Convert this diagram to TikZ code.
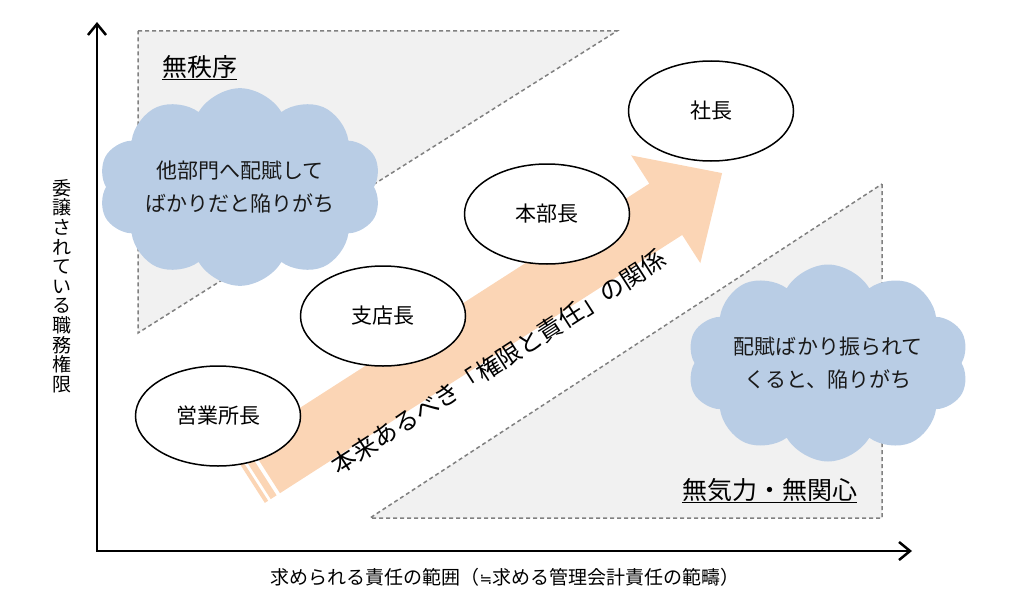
\documentclass[tikz,border=0pt]{standalone}
\usepackage{fontspec}
\newfontfamily\jp{Noto Sans CJK JP}
\newfontfamily\sym{DejaVu Sans}
\usetikzlibrary{shapes.geometric,shapes.symbols,arrows.meta}
\definecolor{peach}{HTML}{FBD5B5}
\definecolor{cloudblue}{HTML}{B9CDE5}
\definecolor{trifill}{HTML}{F1F1F1}
\definecolor{tridash}{HTML}{808080}
\begin{document}
\begin{tikzpicture}[x=1pt,y=-1pt,
  zone/.style={fill=trifill, draw=tridash, line width=1.5pt, dash pattern=on 4pt off 3pt},
  post/.style={ellipse, draw=black, line width=1.5pt, fill=white, font=\jp\fontsize{21}{25}\selectfont, inner sep=0pt, minimum width=165pt, minimum height=100pt},
  puff/.style={cloud, cloud puffs=10, cloud puff arc=120, aspect=1.7, fill=cloudblue, inner sep=0pt, align=center, font=\jp\fontsize{21}{33}\selectfont, text=black!90},
  zonelabel/.style={font=\jp\fontsize{25}{30}\selectfont, inner sep=0pt, anchor=base},
  axislabel/.style={font=\jp\fontsize{19}{19.6}\selectfont, inner sep=0pt, align=center},
  barb/.tip={Straight Barb[length=11pt,width=18pt]}
]
\useasboundingbox (0,0) rectangle (1024,602);
% zones
\path[zone] (138,31) -- (617,31) -- (138,333) -- cycle;
\path[zone] (882,184) -- (882,518) -- (370,518) -- cycle;
% arrow
\begin{scope}[shift={(263.5,467.5)}, x={(0.8415pt,0.5402pt)}, y={(-0.5402pt,0.8415pt)}]
  \fill[peach] (0,30.5) -- (478,30.5) -- (478,64) -- (545,0) -- (478,-64) -- (478,-30.5) -- (0,-30.5) -- cycle;
  \fill[peach] (-4,-30.5) -- (-11,-30.5) -- (-11,30.5) -- (-4,30.5) -- cycle;
  \fill[peach] (-14,-30.5) -- (-18,-30.5) -- (-18,30.5) -- (-14,30.5) -- cycle;
  \node[rotate=32.7, font=\jp\fontsize{24.5}{28}\selectfont, inner sep=0pt] (rel) at (255,-38) {本来あるべき「権限と責任」の関係};
\end{scope}
% clouds
\node[puff, minimum width=275pt, minimum height=160pt] (c1) at (240,187) {他部門へ配賦して\\ばかりだと陥りがち};
\node[puff, minimum width=277pt, minimum height=163pt] (c2) at (828,363) {配賦ばかり振られて\\くると、陥りがち};
% posts
\node[post] (e1) at (218,416) {営業所長};
\node[post] (e2) at (383,316) {支店長};
\node[post] (e3) at (547,214) {本部長};
\node[post] (e4) at (711,111) {社長};
% zone labels
\node[zonelabel] (l1) at (199.5,76) {無秩序};
\draw[line width=1.5pt] ([yshift=-3.5pt]l1.base west) -- ([yshift=-3.5pt]l1.base east);
\node[zonelabel] (l2) at (769.5,499) {無気力・無関心};
\draw[line width=1.5pt] ([yshift=-3.5pt]l2.base west) -- ([yshift=-3.5pt]l2.base east);
% axes
\coordinate (O) at (97,551);
\coordinate (ytop) at (97,22);
\coordinate (xend) at (912,551);
\draw[line width=2.5pt, barb-barb] (ytop) -- (O) -- (xend);
\node[axislabel] (ylab) at (62,286) {委\\譲\\さ\\れ\\て\\い\\る\\職\\務\\権\\限};
\node[axislabel] (xlab) at (505,577) {求められる責任の範囲（{\sym\fontsize{15}{19.6}\selectfont ≒}求める管理会計責任の範疇）};
\end{tikzpicture}
\end{document}
